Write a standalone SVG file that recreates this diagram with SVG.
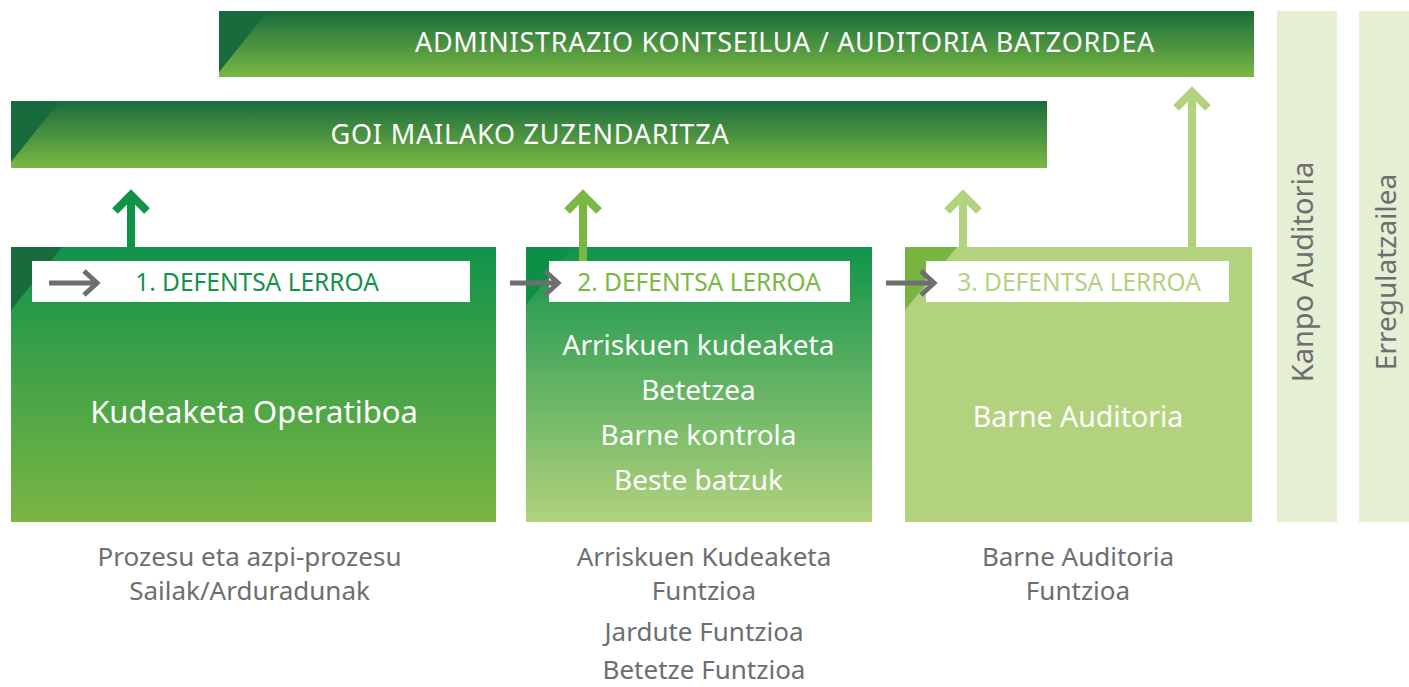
<svg xmlns="http://www.w3.org/2000/svg" width="1409" height="687" viewBox="0 0 1409 687">
<defs>
<linearGradient id="gBar" x1="0" y1="0" x2="0" y2="1"><stop offset="0" stop-color="#1a6b3d"/><stop offset="1" stop-color="#7ab843"/></linearGradient>
<linearGradient id="gB1" x1="0" y1="0" x2="0" y2="1"><stop offset="0" stop-color="#11934b"/><stop offset="1" stop-color="#7bb542"/></linearGradient>
<linearGradient id="gB2" x1="0" y1="0" x2="0" y2="1"><stop offset="0" stop-color="#11934b"/><stop offset="1" stop-color="#b2d27c"/></linearGradient>
</defs>
<style>
text{font-family:"Noto Sans","Open Sans",sans-serif;}
.w{fill:#ffffff;}
.g{fill:#6d6e70;font-size:26px;text-anchor:middle;}
.lbl{font-size:24.5px;text-anchor:middle;}
.c{text-anchor:middle;}
.ga{stroke:#6d6e70;stroke-width:5;fill:none;}
.side{fill:#e5efd4;}
</style>
<g id="board">
<rect x="219" y="11" width="1035" height="66" fill="url(#gBar)"/>
<polygon points="219,11 268,11 219,72" fill="#186b3c"/>
<text x="785" y="52" class="w c" font-size="27" letter-spacing="0.7">ADMINISTRAZIO KONTSEILUA / AUDITORIA BATZORDEA</text>
</g>
<g id="management">
<rect x="11" y="101" width="1036" height="67" fill="url(#gBar)"/>
<polygon points="11,101 60,101 11,162" fill="#186b3c"/>
<text x="530" y="144" class="w c" font-size="27" letter-spacing="0.8">GOI MAILAKO ZUZENDARITZA</text>
</g>
<g id="line1">
<rect x="11" y="247" width="485" height="275" fill="url(#gB1)"/>
<polygon points="11,247 62,247 11,310" fill="#186b3c"/>
<rect x="32" y="261" width="438" height="41" fill="#ffffff"/>
<text x="257" y="291" class="lbl" fill="#12934a">1. DEFENTSA LERROA</text>
<text x="254" y="423" class="w c" font-size="31">Kudeaketa Operatiboa</text>
</g>
<g id="line2">
<rect x="526" y="247" width="346" height="275" fill="url(#gB2)"/>
<polygon points="526,247 572,247 526,305" fill="#0d8f47"/>
<rect x="549" y="261" width="301" height="41" fill="#ffffff"/>
<text x="699" y="291" class="lbl" fill="#7ab843">2. DEFENTSA LERROA</text>
<text x="698.5" y="355" class="w c" font-size="28">Arriskuen kudeaketa</text>
<text x="698.5" y="400" class="w c" font-size="28">Betetzea</text>
<text x="698.5" y="445" class="w c" font-size="28">Barne kontrola</text>
<text x="698.5" y="490" class="w c" font-size="28">Beste batzuk</text>
</g>
<g id="line3">
<rect x="905" y="247" width="347" height="275" fill="#b3d27e"/>
<polygon points="905,247 957,247 905,310" fill="#78b442"/>
<rect x="926" y="261" width="303" height="41" fill="#ffffff"/>
<text x="1079" y="291" class="lbl" fill="#b3d27e">3. DEFENTSA LERROA</text>
<text x="1078" y="427" class="w c" font-size="28.5">Barne Auditoria</text>
</g>
<g id="external-audit">
<rect x="1277" y="11" width="60" height="511" class="side"/>
<text transform="translate(1313,272) rotate(-90)" class="c" fill="#6d6e70" font-size="29">Kanpo Auditoria</text>
</g>
<g id="regulator">
<rect x="1359" y="11" width="50" height="511" class="side"/>
<text transform="translate(1396,272) rotate(-90)" class="c" fill="#6d6e70" font-size="28">Erregulatzailea</text>
</g>
<g id="captions">
<text x="249.5" y="566" class="g">Prozesu eta azpi-prozesu</text>
<text x="249.5" y="600" class="g">Sailak/Arduradunak</text>
<text x="704" y="566" class="g">Arriskuen Kudeaketa</text>
<text x="704" y="600" class="g">Funtzioa</text>
<text x="704" y="641" class="g">Jardute Funtzioa</text>
<text x="704" y="679" class="g">Betetze Funtzioa</text>
<text x="1078" y="566" class="g">Barne Auditoria</text>
<text x="1078" y="600" class="g">Funtzioa</text>
</g>
<g id="connectors">
<path d="M131,261 V196 M115,211 L131,195 L147,211" stroke="#0f9347" stroke-width="8" fill="none"/>
<path d="M583,261 V196 M567,211 L583,195 L599,211" stroke="#7ab841" stroke-width="8" fill="none"/>
<path d="M963,247 V196 M947,211 L963,195 L979,211" stroke="#b3d27e" stroke-width="8" fill="none"/>
<path d="M1192,247 V93 M1176,108 L1192,92 L1208,108" stroke="#b3d27e" stroke-width="8" fill="none"/>
<path d="M49,283 H97 M84,271 L97,283 L84,295" class="ga"/>
<path d="M510,283 H558 M545,271 L558,283 L545,295" class="ga"/>
<path d="M886,283 H934 M921,271 L934,283 L921,295" class="ga"/>
</g>
</svg>
